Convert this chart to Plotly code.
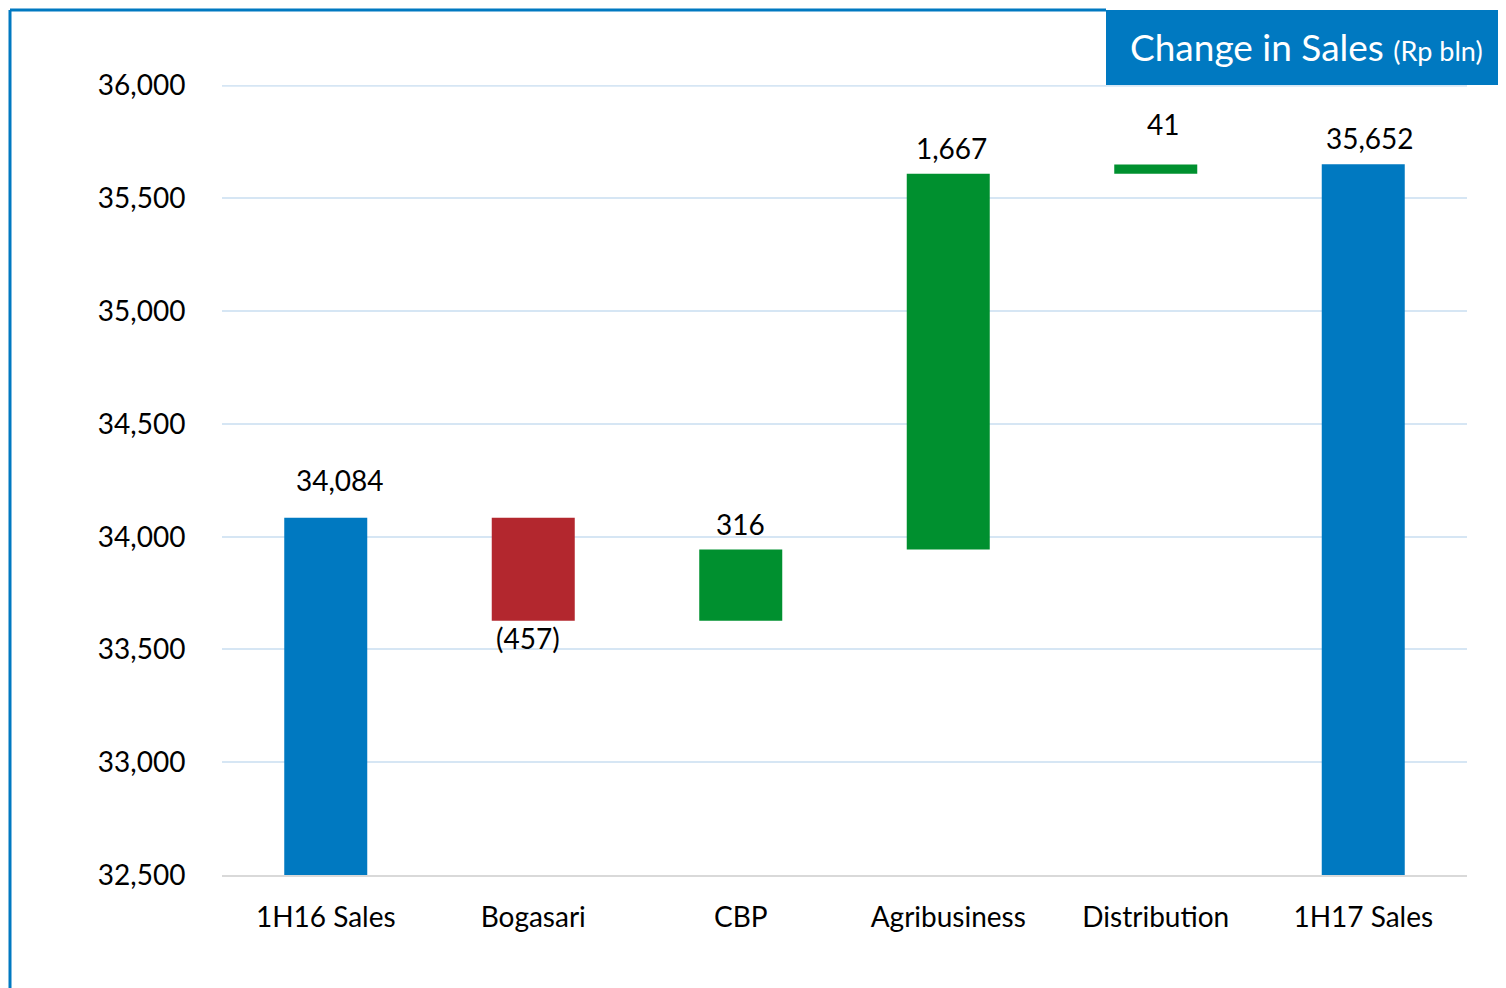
import plotly.graph_objects as go

categories = ["1H16 Sales", "Bogasari", "CBP", "Agribusiness", "Distribution", "1H17 Sales"]
values = [34084, -457, 316, 1667, 41, 35652]
measures = ["absolute", "relative", "relative", "relative", "relative", "absolute"]
labels = ["34,084", "(457)", "316", "1,667", "41", "35,652"]
label_shift = [19, 5, 7, 7, 21, 7]
label_xshift = [14, -5, 0, 3, 7, 7]
y_ticks = [32500, 33000, 33500, 34000, 34500, 35000, 35500, 36000]

BLUE = "#0079C1"
RED = "#B3272E"
GREEN = "#00902F"
GRID = "#D6E6F4"
FONT = "Lato"

fig = go.Figure()
fig.add_trace(go.Waterfall(
    x=categories, y=values, measure=measures,
    increasing=dict(marker=dict(color=GREEN)),
    decreasing=dict(marker=dict(color=RED)),
    totals=dict(marker=dict(color=BLUE)),
    connector=dict(visible=False),
    width=0.4,
    base=0,
    hoverinfo="skip",
))

# value labels positioned from the data
running = 0
for cat, v, m, lab, sh, xs in zip(categories, values, measures, labels, label_shift, label_xshift):
    if m == "absolute":
        top, bottom = v, 0
        running = v
    else:
        start = running
        running += v
        top, bottom = max(start, running), min(start, running)
    if v < 0:
        fig.add_annotation(x=cat, y=bottom, text=lab, showarrow=False, xshift=xs,
                           yanchor="top", yshift=-sh + 7, font=dict(size=28, color="black", family=FONT))
    else:
        fig.add_annotation(x=cat, y=top, text=lab, showarrow=False, xshift=xs,
                           yanchor="bottom", yshift=sh,
                           font=dict(size=28, color="black", family=FONT))

OFF = 8  # page body margin
W, H = 1506 - OFF, 988 - OFF
L, R, T, B = 222 - OFF, 39, 85 - OFF, 113
pw, ph = W - L - R, H - T - B

def px(x):
    return (x - OFF - L) / pw

def py(y):
    return (H - B - (y - OFF)) / ph

shapes = [
    # top gridline (at the range edge)
    dict(type="line", xref="paper", yref="y", x0=0, x1=1, y0=y_ticks[-1], y1=y_ticks[-1],
         line=dict(color=GRID, width=2), layer="below"),
    dict(type="line", xref="paper", yref="paper", x0=px(10), x1=px(10), y0=py(10), y1=py(988),
         line=dict(color=BLUE, width=3)),
    dict(type="line", xref="paper", yref="paper", x0=px(10), x1=px(1106), y0=py(10), y1=py(10),
         line=dict(color=BLUE, width=3)),
    dict(type="rect", xref="paper", yref="paper", x0=px(1106), x1=px(1506), y0=py(10), y1=py(85),
         fillcolor=BLUE, line=dict(width=0), layer="above"),
]
fig.add_annotation(xref="paper", yref="paper", x=px(1128), y=py(47), xanchor="left", yanchor="middle",
                   showarrow=False,
                   text="Change in Sales <span style='font-size:27px'>(Rp bln)</span>",
                   font=dict(size=37, color="white", family=FONT))

fig.update_layout(
    width=W, height=H,
    margin=dict(l=L, r=R, t=T, b=B),
    paper_bgcolor="white", plot_bgcolor="white",
    showlegend=False,
    shapes=shapes,
    font=dict(family=FONT, size=28, color="black"),
    xaxis=dict(showline=True, linecolor="#D9D9D9", linewidth=2, tickfont=dict(size=28),
               ticks="outside", ticklen=16, tickcolor="rgba(0,0,0,0)", showgrid=False),
    yaxis=dict(range=[32500, 36003], tickvals=y_ticks, tickformat=",d",
               showgrid=True, gridcolor=GRID, gridwidth=2, zeroline=False,
               ticks="outside", ticklen=30, tickcolor="rgba(0,0,0,0)", tickfont=dict(size=28)),
)

fig.write_html("out.html")
